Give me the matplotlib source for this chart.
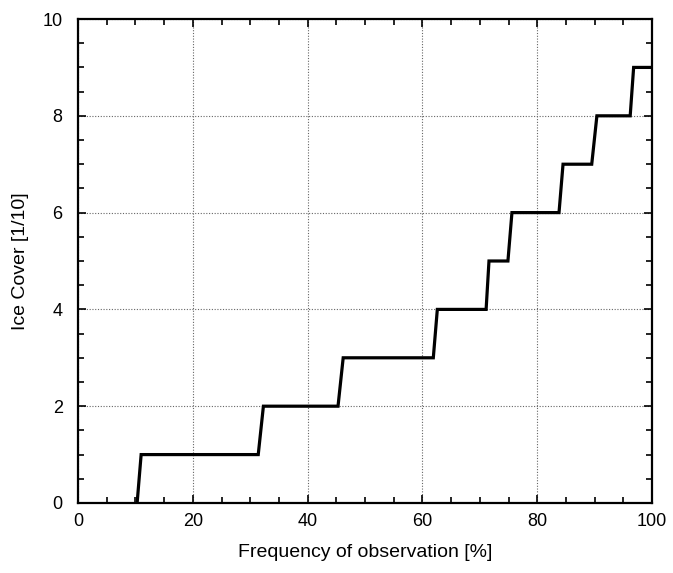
import matplotlib
matplotlib.use("Agg")
import matplotlib.pyplot as plt
from matplotlib.ticker import MultipleLocator

plt.rcParams["font.family"] = ["Liberation Sans", "DejaVu Sans"]

# step curve: frequency of observation [%] vs ice cover [1/10]
freq = [10.3, 11.0, 31.4, 32.3, 45.3, 46.2, 61.9, 62.6, 71.1, 71.6,
        74.9, 75.6, 83.8, 84.5, 89.5, 90.4, 96.2, 96.8, 100.0]
ice_cover = [0, 1, 1, 2, 2, 3, 3, 4, 4, 5,
             5, 6, 6, 7, 7, 8, 8, 9, 9]

fig = plt.figure(figsize=(6.73, 5.73), dpi=100)
ax = fig.add_axes([0.1159, 0.1222, 0.8529, 0.8446])

ax.plot(freq, ice_cover, color="black", linewidth=2.3, solid_joinstyle="miter")

ax.set_xlim(0, 100)
ax.set_ylim(0, 10)
ax.xaxis.set_major_locator(MultipleLocator(20))
ax.xaxis.set_minor_locator(MultipleLocator(5))
ax.yaxis.set_major_locator(MultipleLocator(2))
ax.yaxis.set_minor_locator(MultipleLocator(0.5))
ax.tick_params(which="both", direction="in", top=True, right=True, labelsize=13, width=1.2)
ax.tick_params(which="major", length=6, pad=7)
ax.tick_params(which="minor", length=4)
ax.tick_params(axis="y", which="major", pad=11)

ax.grid(True, which="major", linestyle=(0, (1, 1.5)), color="#666666", linewidth=0.8)
for s in ax.spines.values():
    s.set_linewidth(1.6)

ax.set_xlabel("Frequency of observation [%]", fontsize=14, labelpad=10)
ax.set_ylabel("Ice Cover [1/10]", fontsize=14, labelpad=10)

fig.savefig("out.png", dpi=100)
